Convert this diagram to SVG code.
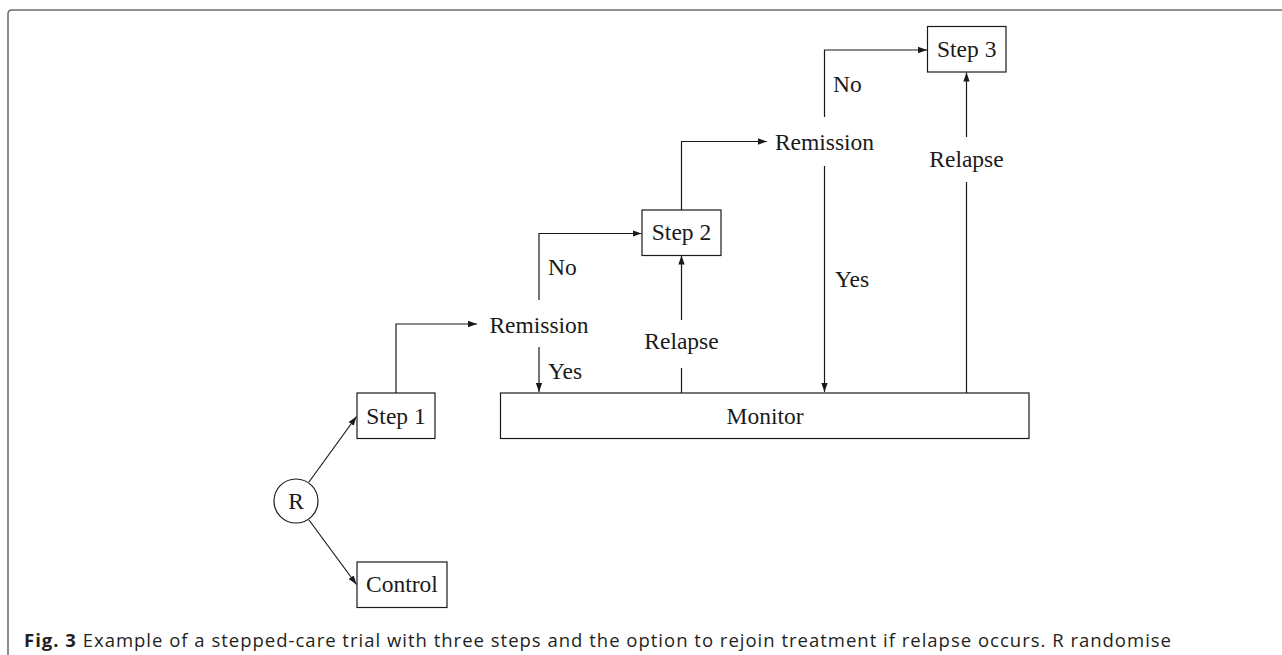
<svg xmlns="http://www.w3.org/2000/svg" width="1282" height="655" viewBox="0 0 1282 655">
<defs>
<style>
.box{fill:#fff;stroke:#1a1a1a;stroke-width:1.2}
.t{font-family:"Liberation Serif","Times New Roman",serif;font-size:23.5px;fill:#1a1a1a}
.c{text-anchor:middle}
.ln{fill:none;stroke:#1a1a1a;stroke-width:1.2}
.cap{font-family:"Open Sans","Liberation Sans",Arial,sans-serif;font-size:18.5px;fill:#231f20}
</style>
<marker id="ah" viewBox="0 0 10 10" refX="10" refY="5" markerWidth="9" markerHeight="9" markerUnits="userSpaceOnUse" orient="auto">
<path d="M0,1.5 L10,5 L0,8.5 Z" fill="#1a1a1a"/>
</marker>
</defs>
<rect width="1282" height="655" fill="#fff"/>
<path d="M8,655 L8,14 Q8,10 12,10 L1282,10" fill="none" stroke="#6d6e71" stroke-width="1.6"/>

<g id="connectors">
<line class="ln" x1="309" y1="482" x2="356.5" y2="416.5" marker-end="url(#ah)"/>
<line class="ln" x1="309" y1="520" x2="356.5" y2="584.5" marker-end="url(#ah)"/>
<path class="ln" d="M396,393 V324 H477" marker-end="url(#ah)"/>
<path class="ln" d="M539,347 V392" marker-end="url(#ah)"/>
<path class="ln" d="M539,300 V233.5 H641.5" marker-end="url(#ah)"/>
<path class="ln" d="M681.5,393 V368"/>
<path class="ln" d="M681.5,320 V255.5" marker-end="url(#ah)"/>
<path class="ln" d="M681.5,210 V141.5 H767" marker-end="url(#ah)"/>
<path class="ln" d="M824.5,117 V50 H927" marker-end="url(#ah)"/>
<path class="ln" d="M824.5,166 V392" marker-end="url(#ah)"/>
<path class="ln" d="M966.5,393 V182"/>
<path class="ln" d="M966.5,137 V72.5" marker-end="url(#ah)"/>
</g>

<g id="R"><circle class="box" cx="296" cy="501" r="22"/><text class="t c" x="296" y="509">R</text></g>
<g id="step1"><rect class="box" x="357" y="393" width="78" height="45.5"/><text class="t c" x="396" y="423.5">Step 1</text></g>
<g id="control"><rect class="box" x="357" y="562" width="90" height="45.5"/><text class="t c" x="402" y="592">Control</text></g>
<g id="remission1"><text class="t c" x="539" y="333">Remission</text></g>
<g id="yes1"><text class="t" x="548" y="378.5">Yes</text></g>
<g id="no1"><text class="t" x="548" y="275">No</text></g>
<g id="step2"><rect class="box" x="642" y="210" width="79" height="45.5"/><text class="t c" x="681.5" y="240">Step 2</text></g>
<g id="relapse1"><text class="t c" x="681.5" y="349">Relapse</text></g>
<g id="monitor"><rect class="box" x="500.5" y="393" width="528.5" height="45.5"/><text class="t c" x="765" y="423.5">Monitor</text></g>
<g id="remission2"><text class="t c" x="824.5" y="150">Remission</text></g>
<g id="no2"><text class="t" x="833" y="92">No</text></g>
<g id="yes2"><text class="t" x="835" y="287">Yes</text></g>
<g id="step3"><rect class="box" x="927.5" y="26.5" width="78.5" height="45.5"/><text class="t c" x="966.7" y="57">Step 3</text></g>
<g id="relapse2"><text class="t c" x="966.5" y="167">Relapse</text></g>

<g id="caption"><text class="cap" x="24" y="647" textLength="1147" lengthAdjust="spacing"><tspan font-weight="bold">Fig. 3</tspan> Example of a stepped-care trial with three steps and the option to rejoin treatment if relapse occurs. R randomise</text></g>
</svg>
